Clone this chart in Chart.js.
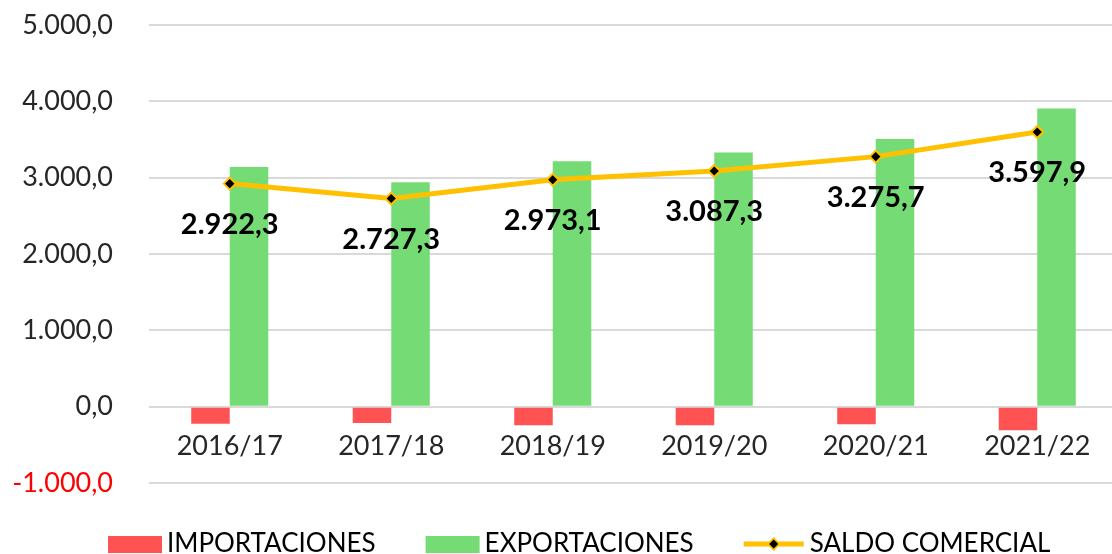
<!DOCTYPE html>
<html><head><meta charset="utf-8">
<script src="https://cdn.jsdelivr.net/npm/chart.js@4.4.1/dist/chart.umd.min.js"></script>
<style>
html,body{margin:0;padding:0;background:#fff;overflow:hidden;width:1112px;height:554px}
canvas{display:block}
</style>
</head><body><canvas id="c" width="1126" height="554"></canvas>
<script>
const categories = ['2016/17','2017/18','2018/19','2019/20','2020/21','2021/22'];
const importaciones = [-225,-215,-245,-245,-230,-310];
const exportaciones = [3140,2940,3215,3330,3505,3905];
const saldoComercial = [2922.3,2727.3,2973.1,3087.3,3275.7,3597.9];
const yTicks = [-1000,0,1000,2000,3000,4000,5000];
const seriesNames = ['IMPORTACIONES','EXPORTACIONES','SALDO COMERCIAL'];

const FONT = 'Lato, "Open Sans", sans-serif';
const RED = '#FF5353', GREEN = '#75DC75', GOLD = '#FFC000';

function fmt(v){
  const neg = v < 0;
  const s = Math.abs(v).toFixed(1).split('.');
  const intPart = s[0].replace(/\B(?=(\d{3})+(?!\d))/g, '.');
  return (neg ? '-' : '') + intPart + ',' + s[1];
}

const labelPlugin = {
  id: 'saldoLabels',
  afterDatasetsDraw(chart){
    const meta = chart.getDatasetMeta(2);
    const ctx = chart.ctx;
    ctx.save();
    ctx.font = 'bold 29px ' + FONT;
    ctx.fillStyle = '#000';
    ctx.textAlign = 'center';
    ctx.textBaseline = 'middle';
    meta.data.forEach((pt, i) => {
      ctx.fillText(fmt(chart.data.datasets[2].data[i]), pt.x, pt.y + 41);
    });
    ctx.restore();
  }
};

const legendPlugin = {
  id: 'bottomLegend',
  afterDraw(chart){
    const ctx = chart.ctx;
    const ds = chart.data.datasets;
    const cy = 544;
    let x = 108;
    ctx.save();
    ctx.font = '26px ' + FONT;
    ctx.textBaseline = 'middle';
    ctx.textAlign = 'left';
    ds.forEach((d) => {
      if (d.type === 'line') {
        ctx.strokeStyle = d.borderColor;
        ctx.lineWidth = 5;
        ctx.beginPath(); ctx.moveTo(x, cy); ctx.lineTo(x + 60, cy); ctx.stroke();
        const mx = x + 30;
        ctx.beginPath();
        ctx.moveTo(mx, cy - 7); ctx.lineTo(mx + 7, cy); ctx.lineTo(mx, cy + 7); ctx.lineTo(mx - 7, cy); ctx.closePath();
        ctx.fillStyle = d.borderColor; ctx.fill();
        ctx.beginPath();
        ctx.moveTo(mx, cy - 4.5); ctx.lineTo(mx + 4.5, cy); ctx.lineTo(mx, cy + 4.5); ctx.lineTo(mx - 4.5, cy); ctx.closePath();
        ctx.fillStyle = '#000'; ctx.fill();
        x += 66;
      } else {
        ctx.fillStyle = d.backgroundColor;
        ctx.fillRect(x, cy - 8, 54, 17);
        x += 59;
      }
      ctx.fillStyle = '#000';
      ctx.fillText(d.label, x, cy);
      x += ctx.measureText(d.label).width + 50;
    });
    ctx.restore();
  }
};

new Chart(document.getElementById('c'), {
  data: {
    labels: categories,
    datasets: [
      { type: 'bar', label: seriesNames[0], data: importaciones, backgroundColor: RED, order: 1,
        categoryPercentage: 0.477, barPercentage: 1 },
      { type: 'bar', label: seriesNames[1], data: exportaciones, backgroundColor: GREEN, order: 1,
        categoryPercentage: 0.477, barPercentage: 1 },
      { type: 'line', label: seriesNames[2], data: saldoComercial, borderColor: GOLD, borderWidth: 5,
        tension: 0, pointStyle: 'rectRot', pointRadius: 6, pointBackgroundColor: '#000',
        pointBorderColor: GOLD, pointBorderWidth: 2, order: 0 }
    ]
  },
  options: {
    responsive: false,
    animation: false,
    devicePixelRatio: 1,
    layout: { padding: { top: 0, left: 0, right: 0, bottom: 71 } },
    plugins: { legend: { display: false }, tooltip: { enabled: false } },
    scales: {
      x: {
        position: { y: 0 },
        grid: { display: false, drawTicks: false },
        border: { display: false },
        ticks: { font: { family: FONT, size: 27 }, color: '#262626', padding: 23 }
      },
      y: {
        min: -1000, max: 5000,
        afterBuildTicks(scale){ scale.ticks = yTicks.map(v => ({ value: v })); },
        afterFit(scale){ scale.width = 149; scale.paddingTop = 25; scale.paddingBottom = 16; },
        grid: { color: '#D9D9D9', lineWidth: 2, drawTicks: false },
        border: { display: false },
        ticks: {
          font: { family: FONT, size: 27 },
          padding: 36,
          color: (c) => c.tick && c.tick.value < 0 ? '#FF0000' : '#262626',
          callback: (v) => fmt(v)
        }
      }
    }
  },
  plugins: [labelPlugin, legendPlugin]
});
</script>
</body></html>
